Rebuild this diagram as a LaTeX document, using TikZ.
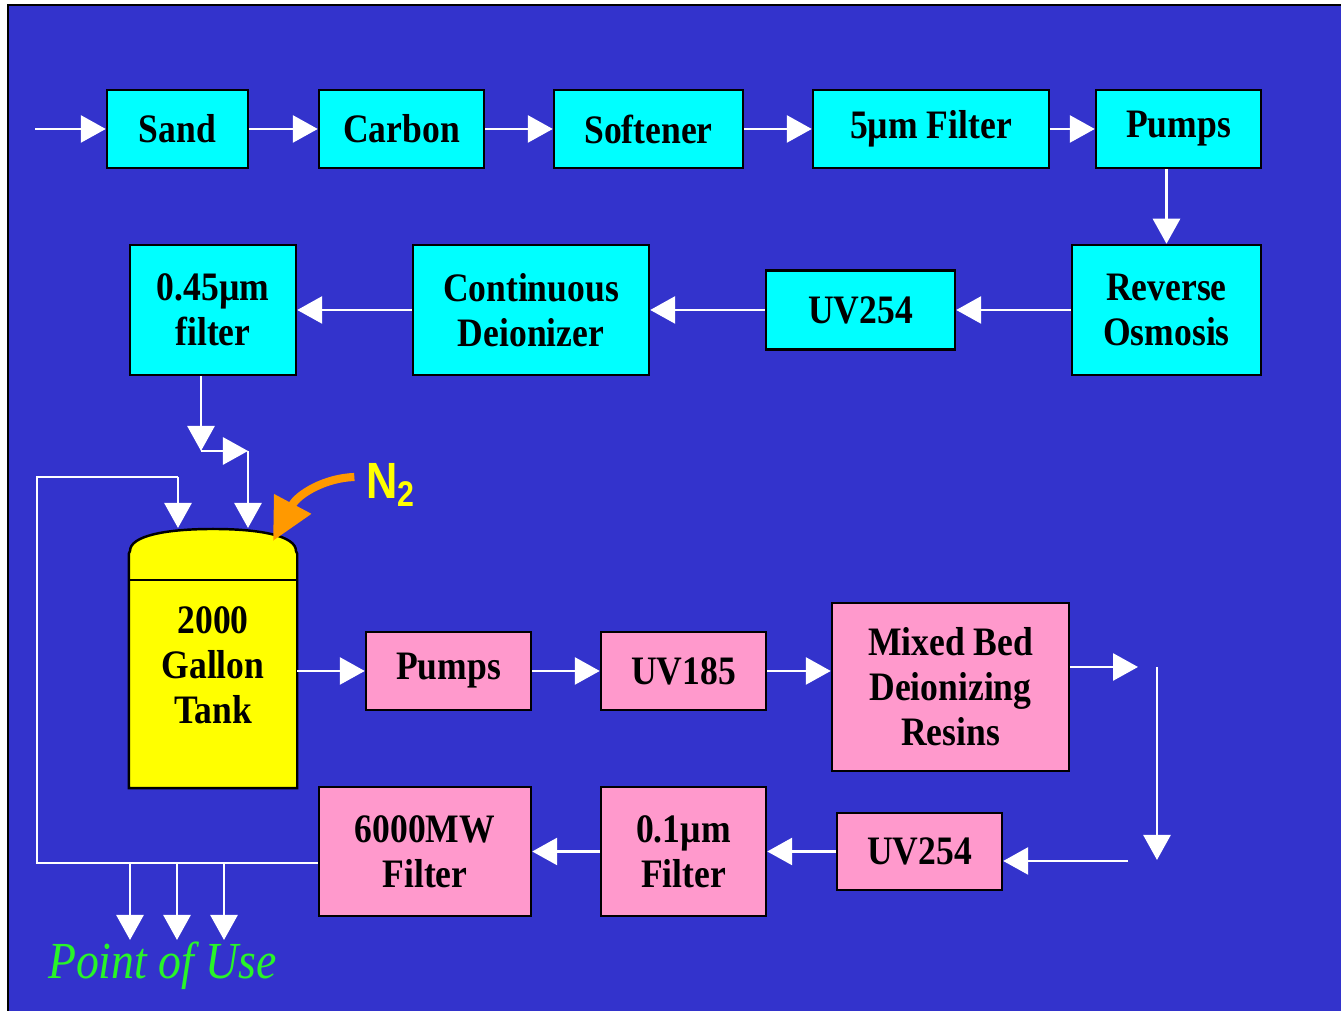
\documentclass[tikz,border=0pt]{standalone}
\usepackage{fontspec}
\setmainfont{Liberation Serif}[FakeStretch=0.88]
\newfontfamily\gasfont{Liberation Sans}[FakeStretch=0.85]
\usepackage{xcolor}
\usetikzlibrary{arrows.meta}
\definecolor{bgblue}{RGB}{51,51,204}
\definecolor{boxcyan}{RGB}{0,255,255}
\definecolor{boxpink}{RGB}{255,153,204}
\definecolor{tankyellow}{RGB}{255,255,0}
\definecolor{gasorange}{RGB}{255,153,0}
\definecolor{usegreen}{RGB}{40,245,40}

\begin{document}
\begin{tikzpicture}[
    box/.style={draw=black, line width=0.7pt, inner sep=0pt, align=center,
      font=\fontsize{11.5}{12.8}\selectfont\bfseries},
    cyanbox/.style={box, fill=boxcyan},
    pinkbox/.style={box, fill=boxpink},
    flow/.style={draw=white, line width=0.8pt,
      -{Triangle[length=2.5mm, width=2.7mm]}},
    pipe/.style={draw=white, line width=0.8pt},
    gas/.style={draw=gasorange, line width=2.3pt,
      -{Triangle[length=4.2mm, width=4mm]}}]
  \useasboundingbox (0,0) rectangle (13.41,10.11);
  \filldraw[fill=bgblue, draw=black, line width=0.6pt] (0.08,10.06) rectangle (13.5,-0.1);

  % pretreatment
  \node[cyanbox, minimum width=1.41cm, minimum height=0.78cm] (sand) at (1.775,8.82) {Sand};
  \node[cyanbox, minimum width=1.65cm, minimum height=0.78cm] (carbon) at (4.015,8.82) {Carbon};
  \node[cyanbox, minimum width=1.89cm, minimum height=0.78cm] (soft) at (6.485,8.82) {Softener};
  \node[cyanbox, minimum width=2.36cm, minimum height=0.78cm] (five) at (9.31,8.82) {5µm Filter};
  \node[cyanbox, minimum width=1.65cm, minimum height=0.78cm] (pumpa) at (11.785,8.82) {Pumps};
  \node[cyanbox, minimum width=1.89cm, minimum height=1.30cm] (ro) at (11.665,7.01) {Reverse\\Osmosis};
  \node[cyanbox, minimum width=1.89cm, minimum height=0.79cm] (uva) at (8.605,7.01) {UV254};
  \node[cyanbox, minimum width=2.36cm, minimum height=1.30cm] (cdi) at (5.31,7.01) {Continuous\\Deionizer};
  \node[cyanbox, minimum width=1.66cm, minimum height=1.30cm] (filt) at (2.13,7.01) {0.45µm\\filter};

  % storage tank
  \node[box, draw=none, fill=tankyellow, minimum width=1.66cm, minimum height=2.32cm] (tank) at (2.13,3.40) {};
  \filldraw[fill=tankyellow, draw=black, line width=0.7pt]
    (tank.south west) -- (tank.north west) -- (1.30,4.60)
    .. controls (1.30,4.75) and (1.65,4.82) .. (2.13,4.82)
    .. controls (2.61,4.82) and (2.96,4.75) .. (2.96,4.60)
    -- (tank.north east) -- (tank.south east) -- cycle;
  \draw[line width=0.7pt] (1.30,4.31) -- (2.96,4.31);
  \node[box, draw=none] (tanktxt) at (2.13,3.46) {2000\\Gallon\\Tank};

  % polishing loop
  \node[pinkbox, minimum width=1.65cm, minimum height=0.78cm] (pumpb) at (4.485,3.40) {Pumps};
  \node[pinkbox, minimum width=1.65cm, minimum height=0.78cm] (uvc) at (6.835,3.40) {UV185};
  \node[pinkbox, minimum width=2.37cm, minimum height=1.68cm] (mix) at (9.505,3.24) {Mixed Bed\\Deionizing\\Resins};
  \node[pinkbox, minimum width=1.65cm, minimum height=0.77cm] (uvb) at (9.195,1.595) {UV254};
  \node[pinkbox, minimum width=1.65cm, minimum height=1.29cm] (tenth) at (6.835,1.595) {0.1µm\\Filter};
  \node[pinkbox, minimum width=2.12cm, minimum height=1.29cm] (mw) at (4.25,1.595) {6000MW\\Filter};

  \node[font=\gasfont\fontsize{14.5}{15}\selectfont\bfseries, text=tankyellow, inner sep=0pt] (n2) at (3.91,5.26) {N\textsubscript{2}};
  \node[font=\fontsize{14.8}{16}\selectfont\itshape, text=usegreen, inner sep=0pt] (pou) at (1.625,0.45) {Point of Use};

  \coordinate (feed) at (0.35,8.82);
  \coordinate (j1) at (2.01,5.60);
  \coordinate (j2) at (2.48,5.60);
  \coordinate (t1) at (1.78,4.83);
  \coordinate (t2) at (2.48,4.83);
  \coordinate (ret) at (0.37,5.34);
  \coordinate (loop) at (3.19,1.48);
  \coordinate (m1) at (11.38,3.44);
  \coordinate (v1) at (11.57,3.44);
  \coordinate (v2) at (11.57,1.51);
  \coordinate (h1) at (11.28,1.50);
  \coordinate (n2in) at (2.73,4.70);

  \draw[flow] (feed) -- (sand.west);
  \draw[flow] (sand.east) -- (carbon.west);
  \draw[flow] (carbon.east) -- (soft.west);
  \draw[flow] (soft.east) -- (five.west);
  \draw[flow] (five.east) -- (pumpa.west);
  \draw[flow] (pumpa.south -| ro.north) -- (ro.north);
  \draw[flow] (ro.west) -- (uva.east);
  \draw[flow] (uva.west) -- (cdi.east);
  \draw[flow] (cdi.west) -- (filt.east);
  \draw[flow] (filt.south -| j1) -- (j1);
  \draw[flow] (j1) -- (j2);
  \draw[flow] (j2) -- (t2);

  \draw[gas] ([xshift=-1.1mm,yshift=0.8mm]n2.west) .. controls (3.25,5.33) and (2.98,5.17) .. (n2in);

  \draw[flow] (tank.east) -- (pumpb.west);
  \draw[flow] (pumpb.east) -- (uvc.west);
  \draw[flow] (uvc.east) -- (uvc.east -| mix.west);
  \draw[flow] (mix.east |- m1) -- (m1);
  \draw[flow] (v1) -- (v2);
  \draw[flow] (h1) -- (h1 -| uvb.east);
  \draw[flow] (uvb.west) -- (tenth.east);
  \draw[flow] (tenth.west) -- (mw.west -| mw.east);

  % return line and points of use
  \draw[pipe] (mw.west |- loop) -- (0.37,1.48) -- (ret) -- (ret -| t1);
  \draw[flow] (ret -| t1) -- (t1);
  \foreach \px in {1.30,1.77,2.24}
    \draw[flow] (\px,1.48) -- (\px,0.71);
\end{tikzpicture}
\end{document}
